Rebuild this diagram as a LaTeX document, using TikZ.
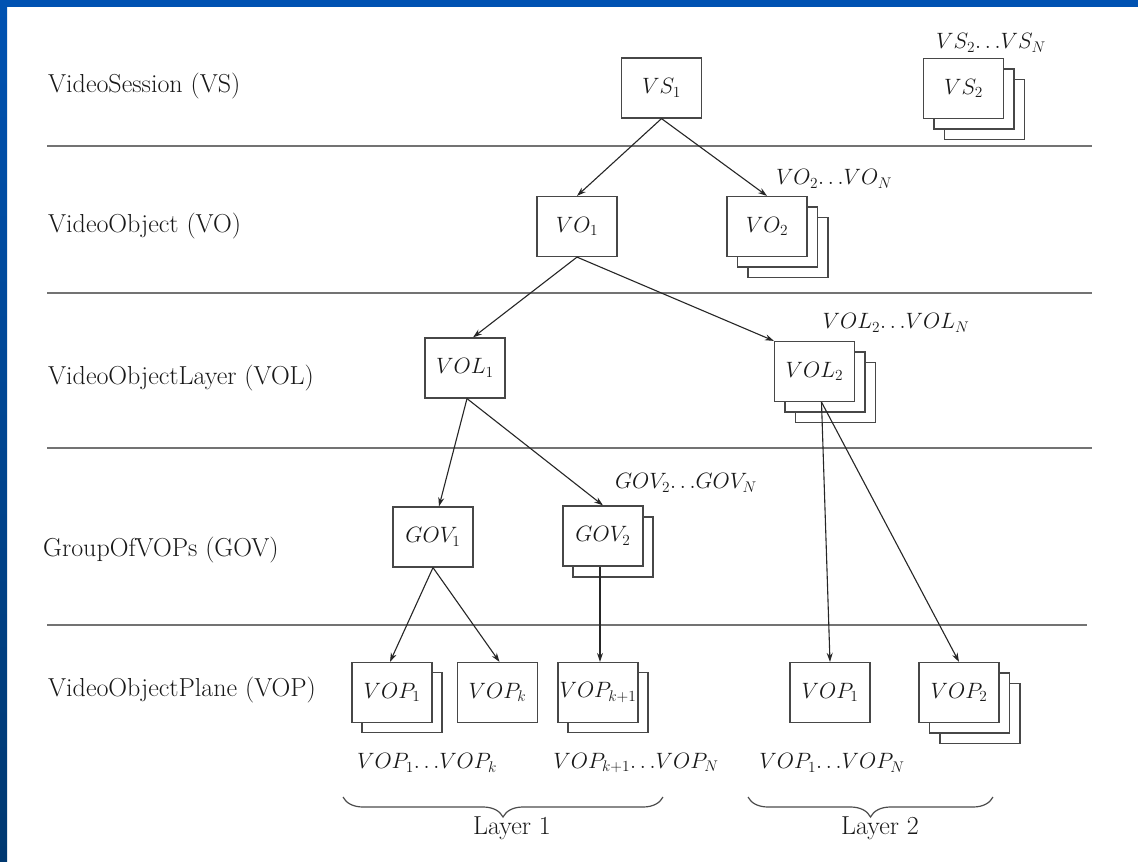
\documentclass[tikz,border=0pt]{standalone}
\usepackage{graphicx}
\usetikzlibrary{calc,arrows.meta,decorations.pathreplacing}
\definecolor{blueTop}{RGB}{0,82,178}
\definecolor{blueBot}{RGB}{0,56,112}
\newcommand{\dts}{\mathord{\ldotp\ldotp\ldotp}}
\newcommand{\mm}[1]{\scalebox{1.07}{$#1$}}
\begin{document}
\begin{tikzpicture}[x=1pt,y=-1pt,
  every node/.style={font=\fontsize{26}{31}\selectfont, text=black!90},
  mfont/.style={font=\fontsize{20.74}{25}\selectfont},
  box/.style={mfont, draw=black!72, line width=1.2pt, fill=white, minimum width=80pt, minimum height=60pt, inner sep=0pt},
  sepline/.style={draw=black!55, line width=2pt},
  arr/.style={draw=black!85, line width=1.1pt, -{Stealth[length=9pt,width=6pt]}},
  rowlabel/.style={anchor=west, inner sep=0pt},
  brc/.style={draw=black!70, line width=1.2pt, decorate, decoration={brace,mirror,amplitude=20pt}}
]
\useasboundingbox (0,0) rectangle (1138,862);
\fill[white] (0,0) rectangle (1138,862);
% frame
\shade[top color=blueTop, bottom color=blueBot] (0,0) rectangle (7,862);
\fill[blueTop] (0,0) rectangle (1138,7);

% separators
\draw[sepline] (47,146) -- (1092,146);
\draw[sepline] (47,293) -- (1092,293);
\draw[sepline] (47,448) -- (1092,448);
\draw[sepline] (47,625) -- (1087,625);

% row labels
\node[rowlabel] (lVS)  at (48,86)  {VideoSession (VS)};
\node[rowlabel] (lVO)  at (48,226) {VideoObject (VO)};
\node[rowlabel] (lVOL) at (48,378) {VideoObjectLayer (VOL)};
\node[rowlabel] (lGOV) at (43,550) {GroupOfVOPs (GOV)};
\node[rowlabel] (lVOP) at (48,690) {VideoObjectPlane (VOP)};

% VS level
\node[box] (VS1) at (661.5,88) {\mm{VS_1}};
\node[box] (VS2c) at (984.5,109.5) {};
\node[box] (VS2b) at (974,99) {};
\node[box] (VS2) at (963.5,88.5) {\mm{VS_2}};
\node[mfont] (tVS) at (991,43) {\mm{VS_2\dts VS_N}};

% VO level
\node[box] (VO1) at (577,226.5) {\mm{VO_1}};
\node[box] (VO2c) at (788,247.5) {};
\node[box] (VO2b) at (777.5,237) {};
\node[box] (VO2) at (767,226.5) {\mm{VO_2}};
\node[mfont] (tVO) at (834,179) {\mm{VO_2\dts VO_N}};

% VOL level
\node[box] (VOL1) at (465,368) {\mm{VOL_1}};
\node[box] (VOL2c) at (835.5,392.5) {};
\node[box] (VOL2b) at (825,382) {};
\node[box] (VOL2) at (814.5,371.5) {\mm{VOL_2}};
\node[mfont] (tVOL) at (896,323) {\mm{VOL_2\dts VOL_N}};

% GOV level
\node[box] (GOV1) at (433,537) {\mm{GOV_1}};
\node[box] (GOV2b) at (613,547) {};
\node[box] (GOV2) at (603,536) {\mm{GOV_2}};
\node[mfont] (tGOV) at (686,483) {\mm{GOV_2\dts GOV_N}};

% VOP level
\node[box] (VOP1b) at (402,702.5) {};
\node[box] (VOP1) at (392,692.5) {\mm{VOP_1}};
\node[box] (VOPk) at (497.5,692.5) {\mm{VOP_k}};
\node[box] (VOPk1b) at (608,702.5) {};
\node[box] (VOPk1) at (598,692.5) {\mm{VOP_{k+1}}};
\node[box] (LVOP1) at (830,692.5) {\mm{VOP_1}};
\node[box] (LVOP2c) at (980,713.5) {};
\node[box] (LVOP2b) at (969.5,703) {};
\node[box] (LVOP2) at (959,692.5) {\mm{VOP_2}};

\node[mfont] (tA) at (427,763) {\mm{VOP_1\dts VOP_k}};
\node[mfont] (tB) at (636,763) {\mm{VOP_{k+1}\dts VOP_N}};
\node[mfont] (tC) at (832,763) {\mm{VOP_1\dts VOP_N}};

% connectors
\draw[arr] (VS1.south) -- (VO1.north);
\draw[arr] (VS1.south) -- (VO2.north);
\draw[arr] (VO1.south) -- ([xshift=8pt]VOL1.north);
\draw[arr] (VO1.south) -- (VOL2.north west);
\draw[arr] ([xshift=2pt]VOL1.south) -- ([xshift=6pt]GOV1.north);
\draw[arr] ([xshift=2pt]VOL1.south) -- (GOV2.north);
\draw[arr] ([xshift=7pt]VOL2.south) -- (LVOP1.north);
\draw[arr] ([xshift=7pt]VOL2.south) -- (LVOP2.north);
\draw[arr] (GOV1.south) -- ([xshift=-2pt]VOP1.north);
\draw[arr] (GOV1.south) -- ([xshift=2pt]VOPk.north);
\draw[arr] ([xshift=-3pt]GOV2.south) -- ([xshift=2pt]VOPk1.north);

% braces
\coordinate (b1l) at (343,797);
\coordinate (b1r) at (663,797);
\coordinate (b2l) at (748,797);
\coordinate (b2r) at (993,797);
\draw[brc] (b1l) -- (b1r);
\draw[brc] (b2l) -- (b2r);
\node (L1) at (512,828) {Layer 1};
\node (L2) at (880,828) {Layer 2};
\end{tikzpicture}
\end{document}
